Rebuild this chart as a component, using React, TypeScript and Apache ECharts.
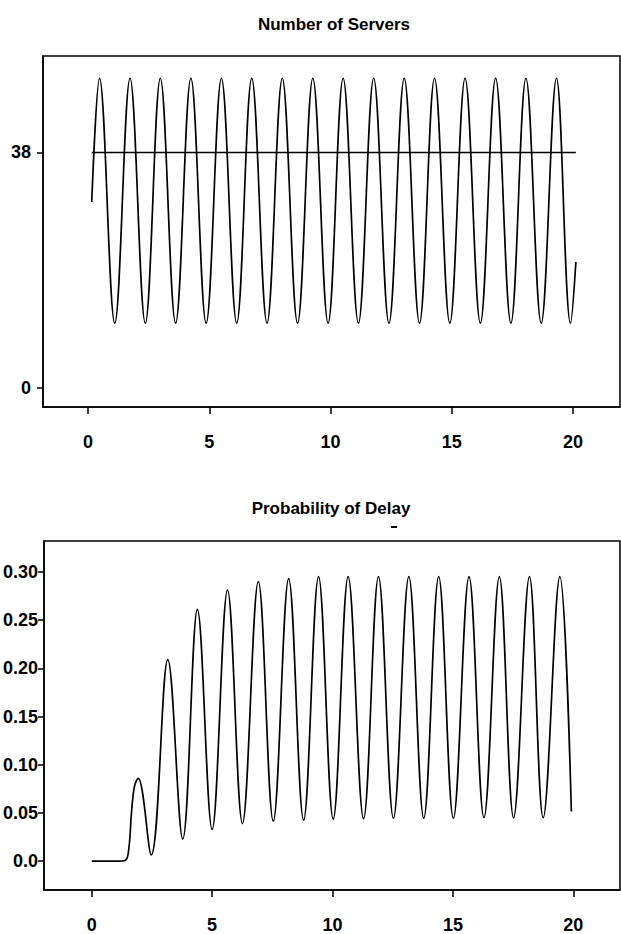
import React, { useEffect, useRef } from "react";
import * as echarts from "echarts";

// ---------- data ----------
const xTickValues = [0, 5, 10, 15, 20];
const serverTickValues = [0, 38];
const delayTickValues = [0, 0.05, 0.1, 0.15, 0.2, 0.25, 0.3];

const titleServers = "Number of Servers";
const titleDelay = "Probability of Delay";

// Number of servers: start, alternating peaks / troughs, end
const serverTimes = [
  0.15, 0.47, 1.10, 1.73, 2.36, 2.98, 3.61, 4.24, 4.87, 5.50, 6.13, 6.75, 7.38, 8.01, 8.64,
  9.27, 9.90, 10.52, 11.15, 11.78, 12.41, 13.04, 13.67, 14.29, 14.92, 15.55, 16.18, 16.81,
  17.44, 18.06, 18.69, 19.32, 19.90, 20.12,
];
const serverValues = [
  30, 50, 10.4, 50, 10.4, 50, 10.4, 50, 10.4, 50, 10.4, 50, 10.4, 50, 10.4,
  50, 10.4, 50, 10.4, 50, 10.4, 50, 10.4, 50, 10.4, 50, 10.4, 50,
  10.4, 50, 10.4, 50, 10.4, 20.3,
];
// average line
const averageTimes = [0.15, 20.12];
const averageValues = [38, 38];

// Probability of delay: flat start, first hump, then alternating peaks / troughs
const delayTimes = [
  0.0, 0.5, 1.0, 1.4, 1.55, 1.65, 1.78, 1.93, 2.47,
  3.16, 3.78, 4.39, 5.00, 5.64, 6.26, 6.92, 7.54, 8.18, 8.80, 9.42, 10.03,
  10.65, 11.29, 11.91, 12.53, 13.17, 13.79, 14.41, 15.02, 15.67, 16.29,
  16.93, 17.52, 18.18, 18.75, 19.44, 19.92,
];
const delayValues = [
  0, 0, 0, 0.001, 0.015, 0.05, 0.078, 0.086, 0.0065,
  0.209, 0.023, 0.261, 0.033, 0.281, 0.039, 0.29, 0.0415, 0.293, 0.0425, 0.295, 0.0435,
  0.295, 0.044, 0.295, 0.0445, 0.295, 0.0445, 0.295, 0.0445, 0.295, 0.045,
  0.295, 0.045, 0.295, 0.045, 0.295, 0.0515,
];

const FONT = "'Liberation Sans', Arial, Helvetica, sans-serif";

export default function App() {
  const ref = useRef<HTMLDivElement>(null);

  useEffect(() => {
    if (!ref.current) return;
    const chart = echarts.init(ref.current, undefined, { renderer: "svg" });

    const pair = (xs: number[], ys: number[]) => xs.map((x, i) => [x, ys[i]]);

    const labelStyle = {
      color: "#000",
      fontFamily: FONT,
      fontSize: 18,
      fontWeight: "bold" as const,
    };

    const xAxisCommon = (gridIndex: number, min: number, max: number) => ({
      type: "value" as const,
      gridIndex,
      min,
      max,
      axisLine: { show: true, onZero: false, lineStyle: { color: "#000", width: 1.5 } },
      axisTick: {
        show: true,
        length: 7,
        customValues: xTickValues,
        lineStyle: { color: "#000", width: 1.5 },
      },
      axisLabel: { ...labelStyle, margin: 26, customValues: xTickValues },
      splitLine: { show: false },
    });

    const curveStyle = { color: "#000", width: 1.7 };

    chart.setOption({
      animation: false,
      backgroundColor: "#fff",
      grid: [
        {
          left: 43,
          top: 56,
          width: 577,
          height: 351,
          show: true,
          borderColor: "#000",
          borderWidth: 1.5,
          backgroundColor: "transparent",
        },
        {
          left: 40,
          top: 541,
          width: 580,
          height: 351,
          show: true,
          borderColor: "#000",
          borderWidth: 1.5,
          backgroundColor: "transparent",
        },
      ],
      xAxis: [xAxisCommon(0, -1.86, 21.94), xAxisCommon(1, -1.98, 21.94)],
      yAxis: [
        {
          type: "value",
          gridIndex: 0,
          min: -3.15,
          max: 53.6,
          axisLine: { show: true, onZero: false, lineStyle: { color: "#000", width: 1.5 } },
          axisTick: {
            show: true,
            length: 6,
            customValues: serverTickValues,
            lineStyle: { color: "#000", width: 1.5 },
          },
          axisLabel: { ...labelStyle, margin: 12, customValues: serverTickValues },
          splitLine: { show: false },
        },
        {
          type: "value",
          gridIndex: 1,
          min: -0.0299,
          max: 0.332,
          axisLine: { show: true, onZero: false, lineStyle: { color: "#000", width: 1.5 } },
          axisTick: {
            show: true,
            length: 6,
            customValues: delayTickValues,
            lineStyle: { color: "#000", width: 1.5 },
          },
          axisLabel: {
            ...labelStyle,
            margin: 6,
            customValues: delayTickValues,
            formatter: (v: number) => (v === 0 ? "0.0" : v.toFixed(2)),
          },
          splitLine: { show: false },
        },
      ],
      series: [
        {
          type: "line",
          xAxisIndex: 0,
          yAxisIndex: 0,
          data: pair(serverTimes, serverValues),
          smooth: 0.38,
          showSymbol: false,
          symbol: "none",
          lineStyle: curveStyle,
        },
        {
          type: "line",
          xAxisIndex: 0,
          yAxisIndex: 0,
          data: pair(averageTimes, averageValues),
          showSymbol: false,
          symbol: "none",
          lineStyle: curveStyle,
        },
        {
          type: "line",
          xAxisIndex: 1,
          yAxisIndex: 1,
          data: pair(delayTimes, delayValues),
          smooth: 0.38,
          showSymbol: false,
          symbol: "none",
          lineStyle: curveStyle,
        },
      ],
      graphic: [
        {
          type: "text",
          x: 334,
          y: 24,
          style: {
            text: titleServers,
            textAlign: "center",
            textVerticalAlign: "middle",
            fill: "#000",
            fontFamily: FONT,
            fontSize: 17,
            fontWeight: "bold",
          },
        },
        {
          type: "text",
          x: 331,
          y: 508,
          style: {
            text: titleDelay,
            textAlign: "center",
            textVerticalAlign: "middle",
            fill: "#000",
            fontFamily: FONT,
            fontSize: 17,
            fontWeight: "bold",
          },
        },
        {
          type: "rect",
          shape: { x: 391, y: 526, width: 6, height: 2 },
          style: { fill: "#000" },
        },
      ],
    });

    return () => chart.dispose();
  }, []);

  return (
    <div
      ref={ref}
      style={{ position: "fixed", left: 0, top: 0, width: 621, height: 934, background: "#fff" }}
    />
  );
}
